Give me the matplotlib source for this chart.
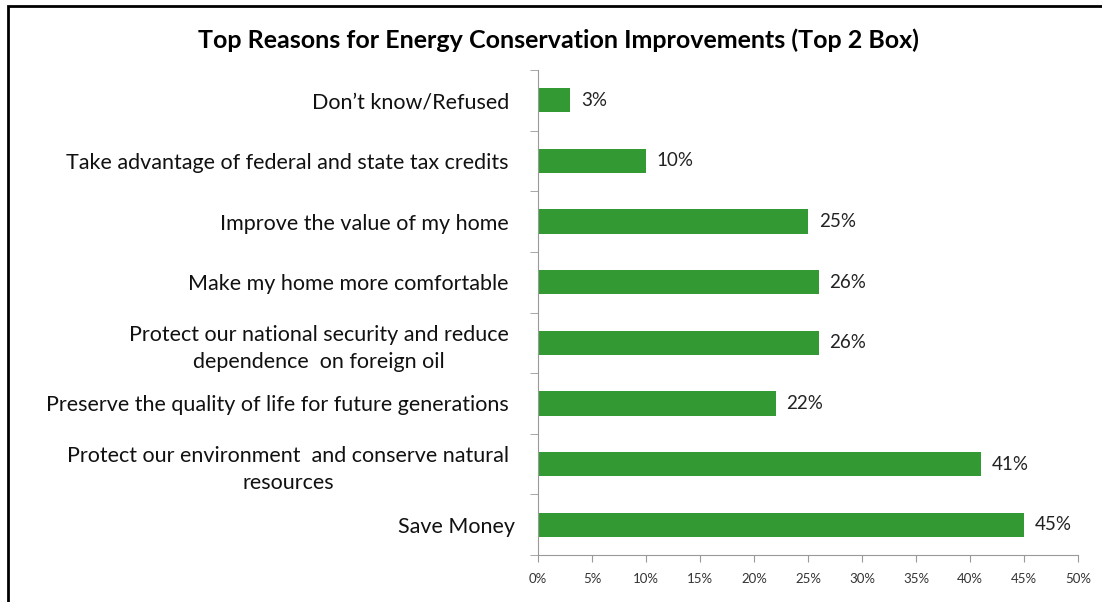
import matplotlib.pyplot as plt
from matplotlib.patches import Rectangle
from matplotlib.ticker import FixedLocator, NullFormatter

categories = [
    "Save Money",
    "Protect our environment  and conserve natural\nresources",
    "Preserve the quality of life for future generations",
    "Protect our national security and reduce\ndependence  on foreign oil",
    "Make my home more comfortable",
    "Improve the value of my home",
    "Take advantage of federal and state tax credits",
    "Don\u2019t know/Refused",
]
values = [45, 41, 22, 26, 26, 25, 10, 3]
xticks = [0, 5, 10, 15, 20, 25, 30, 35, 40, 45, 50]

plt.rcParams['font.family'] = ['Lato', 'DejaVu Sans']

fig = plt.figure(figsize=(11.02, 6.02), dpi=100)
ax = fig.add_axes([538 / 1102, 1 - 555 / 602, 540 / 1102, 485 / 602])

# cadre noir (haut et gauche)
fig.patches.append(Rectangle((8 / 1102, -0.1), 1.2, 1 - 6 / 602 + 0.1,
                             transform=fig.transFigure, fill=False,
                             edgecolor="black", linewidth=2))

pos = list(range(len(categories)))
ax.barh(pos, values, height=0.4, color="#339933")
for p, v in zip(pos, values):
    ax.text(v + 1.0, p, f"{v}%", va="center", ha="left", fontsize=13.5, color="#222222")

ax.set_xlim(0, 50)
ax.set_ylim(-0.5, len(categories) - 0.5)
ax.set_xticks(xticks)
ax.set_xticklabels([f"{t}%" for t in xticks], fontsize=9.5, color="#333333")

ax.set_yticks(pos)
ax.set_yticklabels(categories, fontsize=15.5, color="#111111", linespacing=1.45)
ax.tick_params(axis="y", length=0, pad=21)
ax.yaxis.set_minor_locator(FixedLocator([p - 0.5 for p in range(len(categories) + 1)]))
ax.yaxis.set_minor_formatter(NullFormatter())
ax.tick_params(axis="y", which="minor", length=6, color="#999999")
ax.tick_params(axis="x", length=5, color="#999999", pad=8)

for lbl in ax.get_yticklabels():
    lbl.set_multialignment("center")
# "Save Money" est un peu plus à droite dans l'original
ax.get_yticklabels()[0].set_x(0.012)

for s in ["top", "right"]:
    ax.spines[s].set_visible(False)
ax.spines["left"].set_color("#999999")
ax.spines["bottom"].set_color("#999999")

fig.text(558 / 1102, 1 - 40 / 602, "Top Reasons for Energy Conservation Improvements (Top 2 Box)",
         ha="center", va="center", fontsize=18, fontweight="bold")

fig.savefig("out.png", dpi=100)
